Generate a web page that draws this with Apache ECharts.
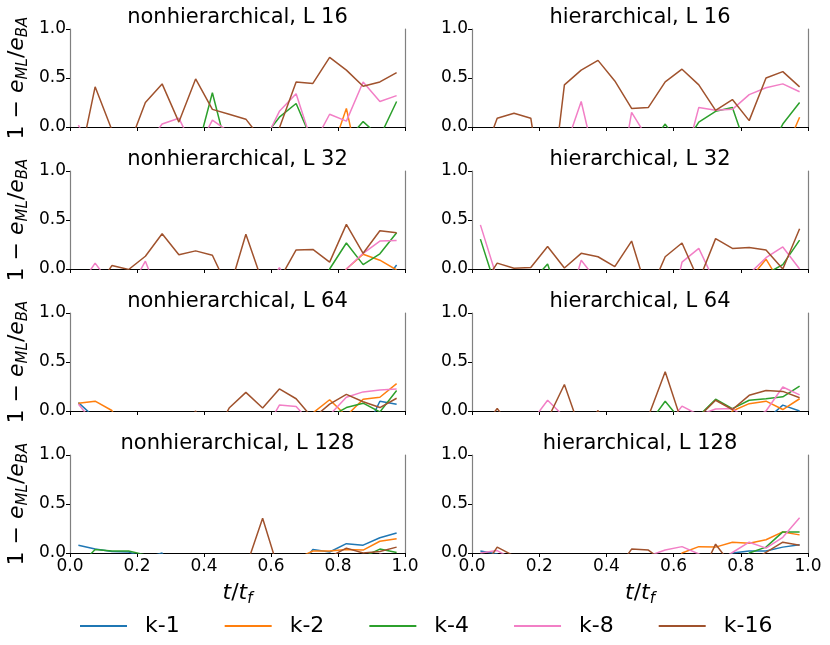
<!DOCTYPE html>
<html>
<head>
<meta charset="utf-8">
<script src="https://cdn.jsdelivr.net/npm/echarts@6/dist/echarts.min.js"></script>
<style>
    html, body { margin: 0; padding: 0; background: #fff; }
    #chart { width: 830px; height: 645px; }
</style>
</head>
<body>
<div id="chart"></div>
<script>
// sample times t/t_f
var tPoints = [0.025, 0.075, 0.125, 0.175, 0.225, 0.275, 0.325, 0.375, 0.425, 0.475,
               0.525, 0.575, 0.625, 0.675, 0.725, 0.775, 0.825, 0.875, 0.925, 0.975];
var kLabels = ['k-1', 'k-2', 'k-4', 'k-8', 'k-16'];
var kColors = ['#1f77b4', '#ff7f0e', '#2ca02c', '#f27fc6', '#a0522d'];
var xTicks = [0, 0.2, 0.4, 0.6, 0.8, 1.0];
var yTicks = [0, 0.5, 1.0];
var panelTitles = ['nonhierarchical, L 16', 'hierarchical, L 16',
                   'nonhierarchical, L 32', 'hierarchical, L 32',
                   'nonhierarchical, L 64', 'hierarchical, L 64',
                   'nonhierarchical, L 128', 'hierarchical, L 128'];

// 1 - e_ML/e_BA, rows: k-1, k-2, k-4, k-8, k-16 (values below 0 fall off the plot)
var nonhierL16 = [
    [-0.42,-0.35,-0.4,-0.38,-0.45,-0.33,-0.36,-0.4,-0.31,-0.37,-0.42,-0.35,-0.3,-0.28,-0.33,-0.26,-0.3,-0.22,-0.25,-0.2],
    [-0.35,-0.4,-0.3,-0.33,-0.36,-0.3,-0.28,-0.35,-0.32,-0.3,-0.27,-0.3,-0.25,-0.28,-0.3,-0.31,0.19,-0.6,-0.3,-0.25],
    [-0.3,-0.32,-0.28,-0.3,-0.35,-0.3,-0.28,-0.3,0.35,-0.32,-0.3,-0.12,0.10,0.24,-0.16,-0.3,-0.14,0.055,-0.1,0.26],
    [0.02,-0.3,-0.28,-0.3,-0.2,0.03,0.09,-0.26,0.07,-0.05,-0.3,-0.19,0.16,0.34,-0.19,0.13,0.06,0.46,0.26,0.32],
    [-0.41,0.41,-0.03,-0.2,0.25,0.44,0.05,0.49,0.18,0.13,0.08,-0.14,-0.01,0.46,0.445,0.71,0.58,0.415,0.46,0.555]
];
var hierL16 = [
    [-0.4,-0.36,-0.42,-0.38,-0.35,-0.4,-0.33,-0.37,-0.3,-0.34,-0.38,-0.3,-0.32,-0.28,-0.3,-0.26,-0.29,-0.24,-0.27,-0.22],
    [-0.38,-0.35,-0.4,-0.33,-0.36,-0.31,-0.34,-0.3,-0.35,-0.32,-0.3,-0.28,-0.33,-0.3,-0.27,-0.3,-0.25,-0.28,-0.3,0.10],
    [-0.35,-0.32,-0.3,-0.34,-0.3,-0.28,-0.31,-0.3,-0.27,-0.3,-0.2,0.03,-0.22,0.05,0.16,0.20,-0.3,-0.3,0.03,0.25],
    [-0.3,-0.34,-0.3,-0.28,-0.3,-0.24,0.26,-0.47,-0.85,0.15,-0.13,-0.3,-0.45,0.20,0.17,0.18,0.33,0.40,0.44,0.36],
    [-0.38,0.09,0.14,0.09,-1.0,0.43,0.58,0.68,0.47,0.19,0.20,0.46,0.59,0.43,0.17,0.28,0.065,0.50,0.565,0.41]
];
var nonhierL32 = [
    [-0.4,-0.36,-0.38,-0.34,-0.37,-0.33,-0.35,-0.3,-0.32,-0.3,-0.28,-0.31,-0.27,-0.3,-0.26,-0.28,-0.24,-0.25,-0.18,0.04],
    [-0.36,-0.34,-0.3,-0.35,-0.32,-0.3,-0.33,-0.29,-0.31,-0.28,-0.3,-0.27,-0.29,-0.26,-0.28,-0.3,0.0,0.15,0.09,-0.01],
    [-0.33,-0.3,-0.32,-0.28,-0.3,-0.31,-0.27,-0.3,-0.28,-0.26,-0.3,-0.27,-0.25,-0.28,-0.3,0.0,0.265,0.045,0.155,0.37],
    [-0.19,0.06,-0.17,-0.23,0.08,-0.36,-0.3,-0.28,-0.3,-0.27,-0.3,-0.3,0.015,-0.3,-0.28,-0.3,0.0,0.16,0.285,0.29],
    [-0.3,-0.22,0.035,-0.005,0.13,0.36,0.145,0.185,0.14,-0.22,0.355,-0.14,-0.11,0.195,0.2,0.07,0.455,0.16,0.39,0.37]
];
var hierL32 = [
    [-0.38,-0.34,-0.36,-0.3,-0.33,-0.31,-0.35,-0.3,-0.28,-0.32,-0.3,-0.27,-0.29,-0.3,-0.26,-0.28,-0.25,-0.27,-0.24,-0.22],
    [-0.34,-0.3,-0.32,-0.35,-0.3,-0.28,-0.31,-0.3,-0.27,-0.29,-0.3,-0.26,-0.28,-0.3,-0.25,-0.27,-0.11,0.10,-0.18,-0.3],
    [0.305,-0.23,-0.3,-0.14,0.05,-0.45,-0.3,-0.28,-0.3,-0.27,-0.3,-0.26,-0.28,-0.3,-0.25,-0.27,-0.3,-0.05,0.045,0.295],
    [0.45,-0.1,-0.3,-0.28,-0.3,-0.5,0.09,-0.13,-0.3,-0.28,-0.3,-0.7,0.07,0.21,-0.15,-0.3,-0.05,0.115,0.225,0.0],
    [-0.2,0.06,0.007,0.015,0.23,0.01,0.16,0.125,0.025,0.285,-0.27,0.125,0.265,-0.12,0.31,0.21,0.22,0.195,0.0,0.41]
];
var nonhierL64 = [
    [0.085,-0.07,-0.3,-0.28,-0.32,-0.3,-0.27,-0.3,-0.29,-0.31,-0.28,-0.3,-0.27,-0.29,-0.3,-0.28,-0.3,-0.26,0.10,0.07],
    [0.08,0.10,0.005,-0.3,-0.28,-0.3,-0.32,-0.29,-0.3,-0.27,-0.3,-0.28,-0.3,-0.26,-0.02,0.115,-0.05,0.12,0.14,0.28],
    [-0.3,-0.28,-0.31,-0.3,-0.27,-0.3,-0.29,-0.3,-0.28,-0.3,-0.27,-0.29,-0.3,-0.28,-0.3,-0.06,0.035,0.08,-0.01,0.21],
    [0.07,-0.14,-0.3,-0.28,-0.3,-0.31,-0.29,-0.3,-0.27,-0.3,-0.28,-0.24,0.06,0.045,-0.14,-0.04,0.14,0.195,0.215,0.225],
    [-0.3,-0.28,-0.3,-0.32,-0.29,-0.3,-0.28,0.0,-0.3,0.03,0.19,0.03,0.225,0.125,-0.075,0.07,0.17,0.095,0.035,0.13]
];
var hierL64 = [
    [-0.35,-0.3,-0.33,-0.29,-0.31,-0.3,-0.28,-0.32,-0.3,-0.27,-0.3,-0.29,-0.28,-0.3,-0.26,-0.28,-0.25,-0.09,0.06,0.0],
    [-0.33,-0.3,-0.31,-0.28,-0.3,-0.32,-0.29,-0.3,-0.27,-0.3,-0.28,-0.3,-0.26,-0.29,-0.2,0.0,0.075,0.10,0.015,0.125],
    [-0.3,-0.32,-0.29,-0.3,-0.28,-0.31,-0.3,-0.27,-0.3,-0.29,-0.135,0.10,-0.11,-0.05,0.12,0.025,0.11,0.125,0.145,0.255],
    [-0.31,-0.3,-0.28,-0.12,0.11,-0.06,-0.3,-0.29,-0.3,-0.28,-0.3,-0.17,0.05,-0.04,0.02,0.025,-0.1,0.0,0.245,0.165],
    [-0.2,0.025,-0.2,-0.3,-0.085,0.27,-0.22,0.005,-0.3,-0.28,-0.055,0.40,-0.12,-0.06,0.11,0.015,0.16,0.21,0.20,0.135]
];
var nonhierL128 = [
    [0.08,0.04,0.015,0.01,-0.05,0.0,-0.3,-0.28,-0.3,-0.29,-0.3,-0.27,-0.3,-0.18,0.035,0.01,0.095,0.08,0.155,0.205],
    [-0.3,-0.28,-0.3,-0.31,-0.29,-0.3,-0.27,-0.3,-0.28,-0.3,-0.29,-0.3,-0.27,-0.06,0.02,0.02,0.035,0.03,0.12,0.145],
    [-0.14,0.035,0.02,0.02,-0.02,-0.3,-0.28,-0.3,-0.29,-0.3,-0.27,-0.3,-0.28,-0.3,-0.29,-0.3,-0.27,-0.04,0.04,0.005],
    [-0.32,-0.3,-0.29,-0.3,-0.28,-0.31,-0.3,-0.27,-0.3,-0.28,-0.3,-0.29,-0.27,-0.3,-0.28,-0.3,-0.26,-0.2,-0.01,-0.05],
    [-0.3,-0.29,-0.31,-0.3,-0.28,-0.3,-0.27,-0.3,-0.29,-0.3,-0.15,0.355,-0.2,-0.3,-0.28,-0.04,0.05,0.0,0.015,0.06]
];
var hierL128 = [
    [0.02,-0.01,-0.3,-0.28,-0.3,-0.29,-0.3,-0.27,-0.3,-0.28,-0.3,-0.29,-0.27,-0.3,-0.3,0.0,0.02,0.02,0.06,0.085],
    [-0.3,-0.29,-0.3,-0.28,-0.31,-0.3,-0.27,-0.3,-0.28,-0.3,-0.29,-0.3,0.0,0.065,0.06,0.11,0.10,0.135,0.215,0.185],
    [-0.3,-0.28,-0.3,-0.29,-0.31,-0.3,-0.27,-0.3,-0.28,-0.3,-0.29,-0.27,-0.3,-0.28,-0.3,-0.3,0.0,0.06,0.215,0.215],
    [0.0,0.025,-0.07,-0.3,-0.28,-0.3,-0.29,-0.3,-0.27,-0.3,-0.03,0.03,0.065,-0.01,-0.1,0.005,0.11,0.05,0.16,0.36],
    [-0.2,0.06,-0.03,-0.3,-0.28,-0.3,-0.29,-0.3,-0.2,0.04,0.03,-0.1,-0.3,-0.27,0.09,-0.135,-0.1,0.007,0.11,0.08]
];

var panelData = [nonhierL16, hierL16, nonhierL32, hierL32, nonhierL64, hierL64, nonhierL128, hierL128];

// layout of the 4x2 grid of panels
var colLeft = [70, 472];
var colWidth = [335, 336];
var rowTop = [29, 171, 313, 455];
var rowHeight = 98;
var fontFamily = 'DejaVu Sans';

var mathRich = {
    n: { fontSize: 22, fontFamily: fontFamily, color: '#000', lineHeight: 28, verticalAlign: 'middle' },
    i: { fontSize: 22, fontFamily: fontFamily, fontStyle: 'italic', color: '#000', lineHeight: 28, verticalAlign: 'middle' },
    s: { fontSize: 15, fontFamily: fontFamily, fontStyle: 'italic', color: '#000', lineHeight: 28, verticalAlign: 'bottom' }
};

function zip(xs, ys) {
    var out = [];
    for (var i = 0; i < xs.length; i++) {
        out.push([xs[i], ys[i]]);
    }
    return out;
}

var grids = [], xAxes = [], yAxes = [], titles = [], series = [];

for (var p = 0; p < panelData.length; p++) {
    var row = Math.floor(p / 2);
    var col = p % 2;
    var bottomRow = row === 3;

    grids.push({ left: colLeft[col], top: rowTop[row], width: colWidth[col], height: rowHeight });

    titles.push({
        text: panelTitles[p],
        left: colLeft[col] + colWidth[col] / 2,
        top: rowTop[row] - 22,
        textAlign: 'center',
        padding: 0,
        textStyle: { fontSize: 21, fontWeight: 'normal', fontFamily: fontFamily, color: '#000' }
    });

    xAxes.push({
        gridIndex: p,
        type: 'value',
        min: 0,
        max: 1,
        interval: 0.2,
        axisLine: { show: true, lineStyle: { color: '#000', width: 1.2 } },
        axisTick: { show: true, length: 4, lineStyle: { color: '#000', width: 1 } },
        axisLabel: {
            show: bottomRow,
            fontSize: 17,
            fontFamily: fontFamily,
            color: '#000',
            margin: 5,
            formatter: function (v) { return v.toFixed(1); }
        },
        splitLine: { show: false },
        name: bottomRow ? '{i|t}{n|/}{i|t}{s|f}' : '',
        nameLocation: 'middle',
        nameGap: 26,
        nameTextStyle: { rich: mathRich }
    });

    // left spine with ticks
    yAxes.push({
        gridIndex: p,
        type: 'value',
        min: 0,
        max: 1,
        interval: 0.5,
        position: 'left',
        axisLine: { show: true, lineStyle: { color: '#808080', width: 1.2 } },
        axisTick: { show: true, length: 4, lineStyle: { color: '#000', width: 1 } },
        axisLabel: {
            fontSize: 17,
            fontFamily: fontFamily,
            color: '#000',
            margin: 4,
            formatter: function (v) { return v.toFixed(1); }
        },
        splitLine: { show: false },
        name: col === 0 ? '{n|1 \u2212 }{i|e}{s|ML}{n|/}{i|e}{s|BA}' : '',
        nameLocation: 'middle',
        nameRotate: 90,
        nameGap: 39,
        nameTextStyle: { rich: mathRich }
    });
    // right spine only
    yAxes.push({
        gridIndex: p,
        type: 'value',
        min: 0,
        max: 1,
        position: 'right',
        axisLine: { show: true, lineStyle: { color: '#808080', width: 1.2 } },
        axisTick: { show: false },
        axisLabel: { show: false },
        splitLine: { show: false }
    });

    for (var k = 0; k < kLabels.length; k++) {
        series.push({
            name: kLabels[k],
            type: 'line',
            xAxisIndex: p,
            yAxisIndex: 2 * p,
            data: zip(tPoints, panelData[p][k]),
            showSymbol: false,
            symbol: 'none',
            clip: true,
            color: kColors[k],
            lineStyle: { width: 1.5, color: kColors[k] }
        });
    }
}

var chart = echarts.init(document.getElementById('chart'), null, { renderer: 'canvas' });
chart.setOption({
    animation: false,
    backgroundColor: '#fff',
    title: titles,
    grid: grids,
    xAxis: xAxes,
    yAxis: yAxes,
    legend: {
        data: kLabels,
        left: 80,
        top: 615,
        padding: 0,
        icon: 'rect',
        itemWidth: 47,
        itemHeight: 2,
        itemGap: 45,
        textStyle: { fontSize: 22, fontFamily: fontFamily, color: '#000', width: 40, padding: [0, 0, 0, 13] }
    },
    series: series
});
</script>
</body>
</html>
